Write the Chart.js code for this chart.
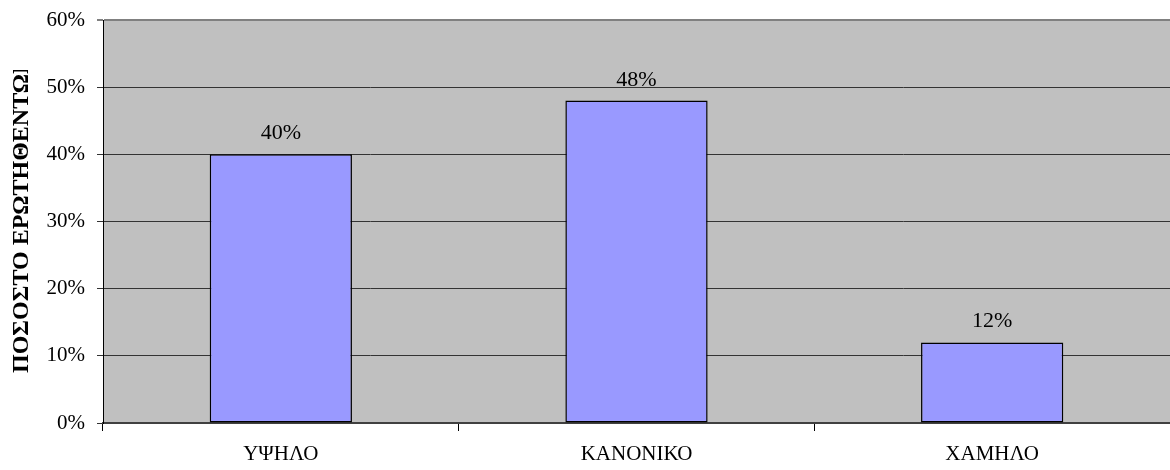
<!DOCTYPE html>
<html>
<head>
<meta charset="utf-8">
<script src="https://cdn.jsdelivr.net/npm/chart.js@4/dist/chart.umd.min.js"></script>
<style>
html,body{margin:0;padding:0;background:#fff;}
#wrap{width:1170px;height:470px;position:relative;}
</style>
</head>
<body>
<div id="wrap"><canvas id="c" width="1170" height="470"></canvas></div>
<script>
const categories = ["ΥΨΗΛΟ", "ΚΑΝΟΝΙΚΟ", "ΧΑΜΗΛΟ"];
const values = [40, 48, 12];
const yTicks = [0, 10, 20, 30, 40, 50, 60];
const yTitle = "ΠΟΣΟΣΤΟ ΕΡΩΤΗΘΕΝΤΩΝ";

const FONT = "'Liberation Serif', 'Times New Roman', serif";

const plotBg = {
  id: 'plotBg',
  beforeDraw(chart) {
    const {ctx, chartArea: a} = chart;
    ctx.save();
    ctx.fillStyle = '#C0C0C0';
    ctx.fillRect(a.left, a.top, a.right - a.left, a.bottom - a.top);
    ctx.restore();
  }
};

const titlePlugin = {
  id: 'yTitle',
  afterDraw(chart) {
    const {ctx} = chart;
    ctx.save();
    ctx.beginPath();
    ctx.rect(0, 70, 60, 400);
    ctx.clip();
    ctx.translate(28, 373);
    ctx.rotate(-Math.PI / 2);
    ctx.font = "bold 24px " + FONT;
    ctx.fillStyle = '#000';
    ctx.textAlign = 'left';
    ctx.textBaseline = 'alphabetic';
    ctx.fillText(yTitle, 0, 0);
    ctx.restore();
  }
};

const dataLabels = {
  id: 'dataLabels',
  afterDatasetsDraw(chart) {
    const {ctx} = chart;
    const meta = chart.getDatasetMeta(0);
    ctx.save();
    ctx.font = "22px " + FONT;
    ctx.fillStyle = '#000';
    ctx.textAlign = 'center';
    ctx.textBaseline = 'alphabetic';
    meta.data.forEach((bar, i) => {
      ctx.fillText(values[i] + '%', bar.x, bar.y - 15);
    });
    ctx.restore();
  }
};

new Chart(document.getElementById('c'), {
  type: 'bar',
  data: {
    labels: categories,
    datasets: [{
      data: values,
      backgroundColor: '#9999FF',
      borderColor: '#000000',
      borderWidth: 1.5,
      borderSkipped: false,
      barPercentage: 0.4,
      categoryPercentage: 1.0
    }]
  },
  options: {
    responsive: false,
    animation: false,
    devicePixelRatio: 1,
    layout: {padding: {top: 20, right: 0, bottom: 0, left: 0}},
    plugins: {legend: {display: false}, tooltip: {enabled: false}},
    scales: {
      x: {
        offset: true,
        grid: {
          offset: true,
          drawOnChartArea: false,
          drawTicks: true,
          tickLength: 8,
          color: '#000',
          lineWidth: 1
        },
        border: {display: true, color: '#404040', width: 2},
        ticks: {
          font: {family: FONT, size: 21},
          color: '#000',
          padding: 11,
          maxRotation: 0
        },
        afterFit(scale) { scale.height = 47; scale.paddingLeft = 0; scale.paddingRight = 0; }
      },
      y: {
        min: 0,
        max: 60,
        afterBuildTicks(scale) { scale.ticks = yTicks.map(v => ({value: v})); },
        grid: {
          drawTicks: true,
          tickLength: 6,
          color: (ctx) => (ctx.tick && ctx.tick.value === 60) ? '#808080' : '#333333',
          lineWidth: (ctx) => (ctx.tick && ctx.tick.value === 60) ? 2 : 1
        },
        border: {display: true, color: '#000', width: 1},
        ticks: {
          font: {family: FONT, size: 21},
          color: '#000',
          padding: 12,
          callback: (v) => v + '%'
        },
        afterFit(scale) { scale.width = 103; scale.paddingTop = 0; scale.paddingBottom = 0; }
      }
    }
  },
  plugins: [plotBg, dataLabels, titlePlugin]
});
</script>
</body>
</html>
